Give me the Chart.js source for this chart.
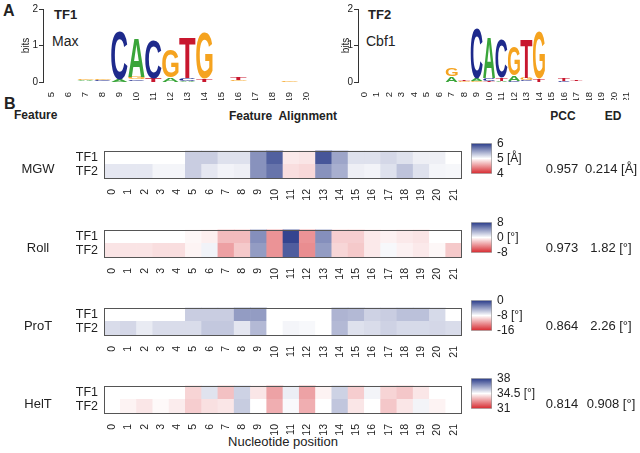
<!DOCTYPE html>
<html>
<head>
<meta charset="utf-8">
<script src="https://cdn.jsdelivr.net/npm/chart.js@4/dist/chart.umd.min.js"></script>
<style>
  body { margin: 0; background: #fff; font-family: "Liberation Sans", Arial, sans-serif; color: #222; }
  #fig { position: relative; width: 640px; height: 453px; overflow: hidden; }
  #fig canvas { position: absolute; }
  .t { position: absolute; white-space: nowrap; font-size: 13px; line-height: 1; }
  .b { font-weight: bold; }
  .c { transform: translateX(-50%); }
</style>
</head>
<body>
<div id="fig">
  <div class="t b" style="left:3px;top:3px;font-size:16px">A</div>
  <div class="t b" style="left:54px;top:8px">TF1</div>
  <div class="t" style="left:52px;top:34px;font-size:14px">Max</div>
  <div class="t b" style="left:368px;top:8px">TF2</div>
  <div class="t" style="left:366px;top:34px;font-size:14px">Cbf1</div>

  <div class="t b" style="left:4px;top:96px;font-size:16px">B</div>
  <div class="t b" style="left:14px;top:109px;font-size:12px">Feature</div>
  <div class="t b c" style="left:283px;top:110px;font-size:12px">Feature&nbsp; Alignment</div>
  <div class="t b c" style="left:563px;top:110px;font-size:12px">PCC</div>
  <div class="t b c" style="left:613px;top:110px;font-size:12px">ED</div>
  <div class="t c" style="left:283px;top:435px;font-size:13px">Nucleotide position</div>
</div>
<script>
// ---------------------------------------------------------------
// data
// ---------------------------------------------------------------
const logo1Pos = ["5","6","7","8","9","10","11","12","13","14","15","16","17","18","19","20"];
const logo2Pos = ["0","1","2","3","4","5","6","7","8","9","10","11","12","13","14","15","16","17","18","19","20","21"];

// information content (bits) per base, TF1 (Max), positions 5..20
const tf1A = [0, 0, 0.03, 0.02, 0.07, 1.05, 0,    0.12, 0.03, 0,    0, 0,    0, 0, 0,    0];
const tf1C = [0, 0, 0.02, 0.03, 1.35, 0.05, 1.05, 0,    0.08, 0,    0, 0.02, 0, 0, 0.01, 0];
const tf1G = [0, 0, 0.05, 0.03, 0,    0.08, 0,    0.76, 0,    1.25, 0, 0.03, 0, 0, 0.02, 0.02];
const tf1T = [0, 0, 0,    0,    0,    0.02, 0.1,  0,    1.1,  0.08, 0, 0.07, 0, 0, 0,    0];

// TF2 (Cbf1), positions 0..21
const tf2A = [0,0,0,0,0,0,0, 0.15, 0,    0.05, 1.1,  0.04, 0.15, 0,    0,    0, 0,    0,    0,0,0,0];
const tf2C = [0,0,0,0,0,0,0, 0,    0,    1.37, 0.06, 1.05, 0.03, 0.05, 0,    0, 0.03, 0.02, 0,0,0,0];
const tf2G = [0,0,0,0,0,0,0, 0.22, 0.03, 0.03, 0,    0,    0.8,  0.06, 1.3,  0, 0,    0,    0,0,0,0];
const tf2T = [0,0,0,0,0,0,0, 0,    0.04, 0,    0.04, 0.08, 0,    1.05, 0.08, 0, 0.05, 0.03, 0,0,0,0];

const baseColors = { A: "#3aa53a", C: "#1e2a8c", G: "#f5a31f", T: "#c8172e" };

// shape features, positions 0..21
const mgwTF1 = [5, 5, 5, 5, 5, 5.25, 5.25, 5.15, 5.15, 5.55, 5.8, 4.9, 4.88, 5.85, 5.45, 5.15, 5.15, 5.2, 5.15, 5.08, 5.08, 5.0];
const mgwTF2 = [5.12, 5.12, 5.12, 5.05, 5.05, 5.25, 5.12, 5.06, 5.08, 5.55, 5.7, 4.85, 4.82, 5.55, 5.4, 5.08, 5.06, 5.15, 5.3, 5.15, 5.05, 5.04];
const rollTF1 = [0, 0, 0, 0, 0, -0.3, -0.6, -2.5, -2.5, 4.5, -4, 7.5, -4, 4.5, -1.8, -1.8, -0.8, -0.5, -0.8, -1, 0, 0];
const rollTF2 = [-1, -1, -1, -1.2, -1.2, -0.4, 0.5, -3.5, -2, 4, -4, 6.5, -4.2, 4, -1.5, -2, -0.8, 0.3, -0.5, -0.8, -0.3, -2];
const protTF1 = [-8, -8, -8, -8, -8, -6, -6, -6, -4, -4, -8, -8, -8, -8, -5, -5.2, -6.2, -6, -5.5, -5.5, -6.5, -8];
const protTF2 = [-6.6, -6.4, -7.2, -6.6, -6.6, -6.6, -5.8, -5.8, -7, -5.2, -8, -7.6, -7.7, -8, -5.2, -6.8, -6.6, -6.2, -6.5, -6.5, -6.4, -6.6];
const heltTF1 = [34.5, 34.5, 34.5, 34.5, 34.5, 33.8, 35.0, 33.5, 35.3, 34.1, 33.0, 34.8, 33.0, 34.3, 35.3, 33.7, 34.7, 33.8, 33.6, 34.1, 34.5, 34.5];
const heltTF2 = [34.5, 34.3, 34.1, 34.4, 34.2, 33.7, 34.0, 34.1, 35.4, 34.5, 33.2, 34.6, 33.2, 34.5, 35.5, 34.1, 34.5, 33.6, 34.1, 34.7, 34.3, 34.5];

const featureNames = ["MGW", "Roll", "ProT", "HelT"];
const featureRanges = [[4, 6], [-8, 8], [-16, 0], [31, 38]];
const colorbarLabels = [["4", "5 [Å]", "6"], ["-8", "0 [°]", "8"], ["-16", "-8 [°]", "0"], ["31", "34.5 [°]", "38"]];
const pccValues = ["0.957", "0.973", "0.864", "0.814"];
const edValues = ["0.214 [Å]", "1.82 [°]", "2.26 [°]", "0.908 [°]"];

// ---------------------------------------------------------------
// helpers
// ---------------------------------------------------------------
const FONT = '"Liberation Sans", Arial, sans-serif';
const NAVY = [38, 56, 135];
const RED = [214, 38, 44];
Chart.defaults.font.family = FONT;
Chart.defaults.color = "#222";

const fig = document.getElementById("fig");

function addCanvas(left, top, w, h) {
  const c = document.createElement("canvas");
  c.width = w;
  c.height = h;
  c.style.left = left + "px";
  c.style.top = top + "px";
  c.style.width = w + "px";
  c.style.height = h + "px";
  fig.appendChild(c);
  return c.getContext("2d");
}

function addText(text, left, top, cls) {
  const d = document.createElement("div");
  d.className = "t " + (cls || "");
  d.style.left = left + "px";
  d.style.top = top + "px";
  d.textContent = text;
  fig.appendChild(d);
}

function cellColor(v, range) {
  const mid = (range[0] + range[1]) / 2;
  let t = (v - mid) / ((range[1] - range[0]) / 2);
  t = Math.max(-1, Math.min(1, t));
  const c = t >= 0 ? NAVY : RED;
  const a = Math.abs(t);
  const ch = (k) => Math.round(255 + (c[k] - 255) * a);
  return `rgb(${ch(0)},${ch(1)},${ch(2)})`;
}

// draw one letter stretched into a rectangle
function drawGlyph(ctx, ch, x, y, w, h, color) {
  ctx.save();
  ctx.font = "bold 100px " + FONT;
  const m = ctx.measureText(ch);
  const gw = m.actualBoundingBoxLeft + m.actualBoundingBoxRight;
  const gh = m.actualBoundingBoxAscent + m.actualBoundingBoxDescent;
  ctx.translate(x, y);
  ctx.scale(w / gw, h / gh);
  ctx.fillStyle = color;
  ctx.textAlign = "left";
  ctx.textBaseline = "alphabetic";
  ctx.fillText(ch, m.actualBoundingBoxLeft, m.actualBoundingBoxAscent);
  ctx.restore();
}

const letterPlugin = {
  id: "letters",
  afterDatasetsDraw(chart) {
    const ctx = chart.ctx;
    chart.data.datasets.forEach((ds, di) => {
      chart.getDatasetMeta(di).data.forEach((bar, i) => {
        const ch = ds.letters[i];
        if (!ch) return;
        const top = Math.min(bar.y, bar.base);
        const h = Math.abs(bar.base - bar.y);
        if (h < 0.3) return;
        drawGlyph(ctx, ch, bar.x - bar.width / 2, top, bar.width, Math.max(h, 0.8), baseColors[ch]);
      });
    });
  },
};

const framePlugin = {
  id: "frame",
  afterDraw(chart, args, opts) {
    const a = chart.chartArea;
    const ctx = chart.ctx;
    ctx.save();
    ctx.strokeStyle = opts.color || "#555";
    ctx.lineWidth = 1;
    ctx.strokeRect(Math.round(a.left) + 0.5, Math.round(a.top) + 0.5, Math.round(a.right - a.left) - 1, Math.round(a.bottom - a.top) - 1);
    ctx.restore();
  },
};

// ---------------------------------------------------------------
// sequence logos
// ---------------------------------------------------------------
function buildLayers(A, C, G, T) {
  const n = A.length;
  const layers = [0, 1, 2, 3].map(() => ({ data: [], letters: [] }));
  for (let i = 0; i < n; i++) {
    const col = [["A", A[i]], ["C", C[i]], ["G", G[i]], ["T", T[i]]]
      .filter((d) => d[1] > 0)
      .sort((p, q) => p[1] - q[1]);
    for (let k = 0; k < 4; k++) {
      layers[k].data.push(col[k] ? col[k][1] : 0);
      layers[k].letters.push(col[k] ? col[k][0] : null);
    }
  }
  return layers;
}

function logoChart(left, labels, A, C, G, T, padLeft, axisW, padRight) {
  const ctx = addCanvas(left, 0, 320, 100);
  const layers = buildLayers(A, C, G, T);
  new Chart(ctx, {
    type: "bar",
    data: {
      labels: labels,
      datasets: layers.map((l) => ({
        data: l.data,
        letters: l.letters,
        backgroundColor: "rgba(0,0,0,0)",
        barPercentage: 0.96,
        categoryPercentage: 1,
      })),
    },
    options: {
      responsive: false,
      animation: false,
      layout: { padding: { left: padLeft, top: 9, right: padRight, bottom: 0 } },
      plugins: { legend: { display: false }, tooltip: { enabled: false } },
      scales: {
        x: {
          stacked: true,
          grid: { display: false },
          border: { display: false },
          ticks: { minRotation: 90, maxRotation: 90, padding: 2, font: { size: 9.5 }, autoSkip: false },
          afterFit: (s) => { s.height = 18; },
        },
        y: {
          stacked: true,
          min: 0,
          max: 2,
          ticks: { stepSize: 1, padding: 1, font: { size: 10 } },
          grid: { drawOnChartArea: false, drawTicks: true, tickLength: 4, color: "#333" },
          border: { display: true, color: "#333" },
          title: { display: true, text: "bits", font: { size: 10 }, padding: 0 },
          afterFit: (s) => { s.width = axisW; },
        },
      },
    },
    plugins: [letterPlugin],
  });
}

logoChart(0, logo1Pos, tf1A, tf1C, tf1G, tf1T, 20, 23, 4);
logoChart(320, logo2Pos, tf2A, tf2C, tf2G, tf2T, 20, 18, 7);

// ---------------------------------------------------------------
// shape feature heatmaps + colorbars
// ---------------------------------------------------------------
const heatTops = [139, 218, 296, 374];
const heatH = 39;
const heatTF1 = [mgwTF1, rollTF1, protTF1, heltTF1];
const heatTF2 = [mgwTF2, rollTF2, protTF2, heltTF2];

function heatmap(k) {
  const top = heatTops[k];
  const range = featureRanges[k];
  const ctx = addCanvas(0, top - 2, 470, 2 + heatH + 30);
  new Chart(ctx, {
    type: "bar",
    data: {
      labels: logo2Pos,
      datasets: [
        { label: "TF2", data: heatTF2[k].map(() => 1), backgroundColor: heatTF2[k].map((v) => cellColor(v, range)) },
        { label: "TF1", data: heatTF1[k].map(() => 1), backgroundColor: heatTF1[k].map((v) => cellColor(v, range)) },
      ],
    },
    options: {
      responsive: false,
      animation: false,
      barPercentage: 1,
      categoryPercentage: 1,
      layout: { padding: { top: 2, right: 8, left: 0, bottom: 0 } },
      plugins: { legend: { display: false }, tooltip: { enabled: false }, frame: { color: "#555" } },
      scales: {
        x: {
          stacked: true,
          grid: { display: false },
          border: { display: false },
          ticks: { minRotation: 90, maxRotation: 90, padding: 3, font: { size: 10.5 }, autoSkip: false },
          afterFit: (s) => { s.height = 30; },
        },
        y: {
          stacked: true,
          min: 0,
          max: 2,
          grid: { display: false, drawTicks: false },
          border: { display: false },
          ticks: { padding: 6, font: { size: 12.5 }, callback: (v) => (v < 1 ? "TF2" : "TF1") },
          afterBuildTicks: (s) => { s.ticks = [{ value: 0.5 }, { value: 1.5 }]; },
          afterFit: (s) => { s.width = 104; },
        },
      },
    },
    plugins: [framePlugin],
  });

  // colorbar
  const cctx = addCanvas(471, top - 8, 81, heatH + 16);
  const mid = (range[0] + range[1]) / 2;
  new Chart(cctx, {
    type: "bar",
    data: {
      labels: [featureNames[k]],
      datasets: [{
        data: [[range[0], range[1]]],
        barPercentage: 1,
        categoryPercentage: 1,
        borderWidth: 1,
        borderSkipped: false,
        borderColor: "rgba(70,70,70,0.55)",
        backgroundColor: (c) => {
          const a = c.chart.chartArea;
          if (!a) return "#fff";
          const g = c.chart.ctx.createLinearGradient(0, a.bottom, 0, a.top);
          g.addColorStop(0, `rgb(${RED})`);
          g.addColorStop(0.5, "#fff");
          g.addColorStop(1, `rgb(${NAVY})`);
          return g;
        },
      }],
    },
    options: {
      responsive: false,
      animation: false,
      layout: { padding: { top: 8, bottom: 8, left: 0, right: 0 } },
      plugins: { legend: { display: false }, tooltip: { enabled: false } },
      scales: {
        x: { display: false },
        y: {
          position: "right",
          min: range[0],
          max: range[1],
          grid: { display: false, drawTicks: false },
          border: { display: false },
          ticks: {
            padding: 5,
            font: { size: 12 },
            callback: (v) => colorbarLabels[k][[range[0], mid, range[1]].indexOf(v)],
          },
          afterBuildTicks: (s) => { s.ticks = [{ value: range[0] }, { value: mid }, { value: range[1] }]; },
          afterFit: (s) => { s.width = 60; },
        },
      },
    },
  });

  const rowY = top + heatH / 2 + 3;
  addText(featureNames[k], 38, rowY, "c");
  addText(pccValues[k], 562, rowY, "c");
  addText(edValues[k], 611, rowY, "c");
}

[0, 1, 2, 3].forEach(heatmap);
</script>
</body>
</html>
